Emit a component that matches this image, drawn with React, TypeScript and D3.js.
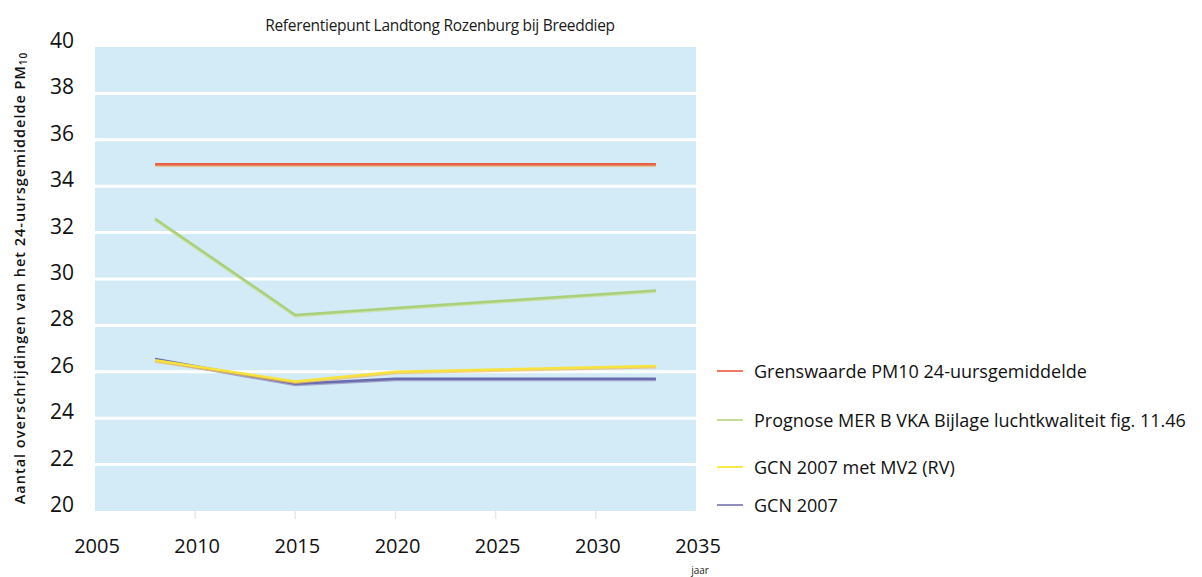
import React from "react";
import * as d3 from "d3";

// years shared by all series
const years = [2008, 2015, 2020, 2033];

const grenswaarde = [34.95, 34.95, 34.95, 34.95];
const prognoseMer = [32.6, 28.45, 28.75, 29.5];
const gcnMv2 = [26.5, 25.58, 26.0, 26.25];
const gcn2007 = [26.55, 25.48, 25.7, 25.7];

const seriesNames = [
  "Grenswaarde PM10 24-uursgemiddelde",
  "Prognose MER B VKA Bijlage luchtkwaliteit fig. 11.46",
  "GCN 2007 met MV2 (RV)",
  "GCN 2007",
];

const xTicks = [2005, 2010, 2015, 2020, 2025, 2030, 2035];
const yTicks = [20, 22, 24, 26, 28, 30, 32, 34, 36, 38, 40];

const W = 1202;
const H = 577;
const plot = { left: 95, right: 696, top: 47, bottom: 511 };
const font = "'Open Sans', 'DejaVu Sans', sans-serif";

export default function App() {
  const x = d3.scaleLinear().domain([2005, 2035]).range([plot.left, plot.right]);
  const y = d3.scaleLinear().domain([20, 40]).range([plot.bottom, plot.top]);

  const line = d3
    .line<number>()
    .x((_, i) => x(years[i]))
    .y((d) => y(d));

  // draw order: back to front
  const series = [
    { name: seriesNames[1], values: prognoseMer, color: "#a9d07a", edge: "#c9dc8a" },
    { name: seriesNames[3], values: gcn2007, color: "#6b6cad", edge: "#8a86b8" },
    { name: seriesNames[2], values: gcnMv2, color: "#f6e43c", edge: "#f0b85a" },
    { name: seriesNames[0], values: grenswaarde, color: "#e8604a", edge: "#f0a040" },
  ];
  const legend = [
    { name: seriesNames[0], color: "#ef7a62" },
    { name: seriesNames[1], color: "#c4dc98" },
    { name: seriesNames[2], color: "#f3ea4a" },
    { name: seriesNames[3], color: "#8f8fc0" },
  ];
  const legendY = [371, 420, 467, 505];

  return (
    <svg
      width={W}
      height={H}
      style={{ position: "absolute", left: 0, top: 0, background: "#ffffff", fontFamily: font }}
    >
      <rect
        x={plot.left}
        y={plot.top}
        width={plot.right - plot.left}
        height={plot.bottom - plot.top}
        fill="#d2ebf6"
      />
      {yTicks
        .filter((t) => t > 20 && t < 40)
        .map((t) => (
          <line
            key={t}
            x1={plot.left}
            x2={plot.right}
            y1={y(t)}
            y2={y(t)}
            stroke="#ffffff"
            strokeWidth={3}
          />
        ))}
      {xTicks.slice(1, -1).map((t) => (
        <line
          key={t}
          x1={x(t)}
          x2={x(t)}
          y1={plot.bottom}
          y2={plot.bottom + 8}
          stroke="#e4e8ea"
          strokeWidth={1.5}
        />
      ))}

      {series.map((s) => (
        <g key={s.name}>
          <path
            d={line(s.values) || ""}
            fill="none"
            stroke={s.edge}
            strokeWidth={3}
            transform="translate(0,1)"
            opacity={0.7}
          />
          <path d={line(s.values) || ""} fill="none" stroke={s.color} strokeWidth={2.5} />
        </g>
      ))}

      {yTicks.map((t) => (
        <text
          key={t}
          x={74}
          y={y(t) - 7}
          textAnchor="end"
          dominantBaseline="central"
          fontSize={21}
          fill="#111"
        >
          {t}
        </text>
      ))}
      {xTicks.map((t) => (
        <text
          key={t}
          x={x(t) + 2}
          y={545}
          textAnchor="middle"
          dominantBaseline="central"
          fontSize={20}
          fill="#111"
        >
          {t}
        </text>
      ))}
      <text x={700} y={574} textAnchor="middle" fontSize={10} fill="#222">
        jaar
      </text>

      <text
        x={440}
        y={25}
        textAnchor="middle"
        dominantBaseline="central"
        fontSize={15.5}
        letterSpacing={-0.3}
        fill="#1a1a1a"
        style={{ fontWeight: 500 }}
      >
        Referentiepunt Landtong Rozenburg bij Breeddiep
      </text>

      <text
        transform={`translate(19,${278}) rotate(-90)`}
        textAnchor="middle"
        dominantBaseline="central"
        fontSize={14.5}
        letterSpacing={1}
        fontWeight={600}
        fill="#111"
      >
        Aantal overschrijdingen van het 24-uursgemiddelde PM
        <tspan fontSize={10} dy={4}>
          10
        </tspan>
      </text>

      {legend.map((l, i) => (
        <g key={l.name} transform={`translate(717,${legendY[i]})`}>
          <line x1={0} x2={26} y1={0} y2={0} stroke={l.color} strokeWidth={2} />
          <text x={37} y={0} dominantBaseline="central" fontSize={18} fill="#111">
            {l.name}
          </text>
        </g>
      ))}
    </svg>
  );
}
